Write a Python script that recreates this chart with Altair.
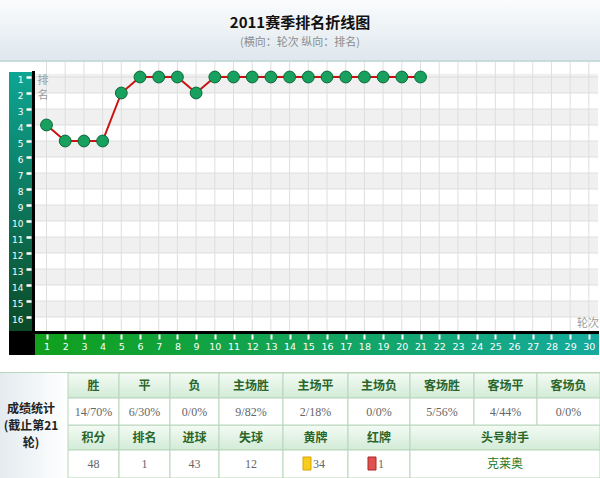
import altair as alt
import pandas as pd

# ---------------- data ----------------
rounds = list(range(1, 22))
ranks = [4, 5, 5, 5, 2, 1, 1, 1, 2, 1, 1, 1, 1, 1, 1, 1, 1, 1, 1, 1, 1]
round_ticks = list(range(1, 31))
rank_ticks = list(range(1, 17))

chart_title = "2011赛季排名折线图"
chart_subtitle = "(横向：轮次 纵向：排名)"
y_name = ["排", "名"]
x_name = "轮次"

head_row1 = ["胜", "平", "负", "主场胜", "主场平", "主场负", "客场胜", "客场平", "客场负"]
vals_row1 = ["14/70%", "6/30%", "0/0%", "9/82%", "2/18%", "0/0%", "5/56%", "4/44%", "0/0%"]
head_row2 = ["积分", "排名", "进球", "失球", "黄牌", "红牌", "头号射手"]
vals_row2 = ["48", "1", "43", "12", "34", "1", "克莱奥"]
side_lines = ["成绩统计", "(截止第21", "轮)"]

# ---------------- layout ----------------
W, H = 600, 478
PLOT_X = [35, 598]
PLOT_Y = [72, 331]
X_DOMAIN = [0.385, 30.49]
Y_DOMAIN = [0.6875, 16.875]
COL_EDGES = [68, 119, 170, 219, 283, 348, 410, 474, 537, 600]
ROW_EDGES = [373, 398, 425, 450, 478]
ROW2_SPANS = [(0, 1), (1, 2), (2, 3), (3, 4), (4, 5), (5, 6), (6, 9)]
CARD_COLORS = {"黄牌": ("#f7cc1c", "#d9a400"), "红牌": ("#e05050", "#a82828")}

CJK = "Noto Sans CJK SC"
GRID = "#dedede"
BAND = "#f0f0f0"
BORDER = "#b8d6bb"

XS = alt.Scale(domain=X_DOMAIN, range=PLOT_X, nice=False, zero=False)
YS = alt.Scale(domain=Y_DOMAIN, range=PLOT_Y, nice=False, zero=False)
PX = alt.Scale(domain=[0, W], range=[0, W], nice=False, zero=False)
PY = alt.Scale(domain=[0, H], range=[0, H], nice=False, zero=False)

one = pd.DataFrame({"k": [0]})


def vgrad(c0, c1):
    return alt.LinearGradient(gradient="linear",
                              stops=[alt.GradientStop(color=c0, offset=0),
                                     alt.GradientStop(color=c1, offset=1)],
                              x1=0, x2=0, y1=0, y2=1)


def hgrad(c0, c1):
    return alt.LinearGradient(gradient="linear",
                              stops=[alt.GradientStop(color=c0, offset=0),
                                     alt.GradientStop(color=c1, offset=1)],
                              x1=0, x2=1, y1=0, y2=0)


def box(x0, x1, y0, y1, **mark):
    return alt.Chart(one).mark_rect(**mark).encode(
        x=alt.value(x0), x2=alt.value(x1), y=alt.value(y0), y2=alt.value(y1))


def label(txt, x, y, **mark):
    return alt.Chart(one).mark_text(text=txt, **mark).encode(
        x=alt.value(x), y=alt.value(y))


layers = []

# header
layers.append(box(0, W, 0, 61, fill=vgrad("#fbfcfd", "#dde7ed")))
layers.append(box(0, W, 60, 62, fill="#c9dada"))
layers.append(label(chart_title, 300, 23, font=CJK, fontSize=15, fontWeight="bold", color="#111111"))
layers.append(label(chart_subtitle, 300, 43, font=CJK, fontSize=11, color="#8c8c8c"))

# alternating bands
bands = pd.DataFrame({"k": [k for k in rank_ticks if k % 2 == 1]})
bands["y0"] = [k - (0.2 if k == 1 else 0) for k in bands["k"]]
bands["y1"] = bands["k"] + 1
layers.append(alt.Chart(bands).mark_rect(fill=BAND).encode(
    y=alt.Y("y0:Q", scale=YS, axis=None), y2="y1:Q",
    x=alt.value(PLOT_X[0]), x2=alt.value(PLOT_X[1])))

# horizontal grid + y axis
hg = pd.DataFrame({"r": rank_ticks})
layers.append(alt.Chart(hg).mark_rule(color=GRID, strokeWidth=1).encode(
    y=alt.Y("r:Q", scale=YS,
            axis=alt.Axis(values=rank_ticks, orient="left", offset=-31, domain=False, grid=False,
                          tickColor="white", tickSize=5, tickWidth=2.5, labelColor="white",
                          labelFontSize=9, labelFont="DejaVu Sans", labelPadding=3,
                          labelOffset=2, title=None, zindex=1, labelFlush=False,
                          labelOverlap=False, format="d")),
    x=alt.value(PLOT_X[0]), x2=alt.value(PLOT_X[1])))

# vertical grid + x axis
vg = pd.DataFrame({"t": round_ticks})
layers.append(alt.Chart(vg).mark_rule(color=GRID, strokeWidth=1).encode(
    x=alt.X("t:Q", scale=XS,
            axis=alt.Axis(values=round_ticks, orient="bottom", offset=-(H - 334), domain=False,
                          grid=False, tickColor="white", tickSize=5, tickWidth=2,
                          labelColor="white", labelFontSize=9.5, labelFont="DejaVu Sans",
                          labelPadding=2, title=None, zindex=1, labelFlush=False,
                          labelOverlap=False, format="d")),
    y=alt.value(62), y2=alt.value(PLOT_Y[1])))

# axis bands
layers.append(box(9, 32, 72, 331, fill=vgrad("#0ea593", "#0b4a27")))
layers.append(box(35, 599, 334, 355, fill=hgrad("#10a01c", "#15aa9e")))
layers.append(box(32, 35, 71, 334, fill="#000000"))
layers.append(box(9, 599, 331, 334, fill="#000000"))
layers.append(box(9, 35, 331, 355, fill="#000000"))

# axis names
layers.append(label(y_name[0], 43, 81, font=CJK, fontSize=11, color="#9a9a9a"))
layers.append(label(y_name[1], 43, 96, font=CJK, fontSize=11, color="#9a9a9a"))
layers.append(label(x_name, 588, 324, font=CJK, fontSize=11, color="#9a9a9a"))

# series
series = pd.DataFrame({"round": rounds, "rank": ranks})
layers.append(alt.Chart(series).mark_line(color="#cc1111", strokeWidth=2).encode(
    x=alt.X("round:Q", scale=XS, axis=None), y=alt.Y("rank:Q", scale=YS, axis=None)))
layers.append(alt.Chart(series).mark_circle(size=140, color="#18a05e", opacity=1,
                                            stroke="#0c6a3a", strokeWidth=1).encode(
    x=alt.X("round:Q", scale=XS, axis=None), y=alt.Y("rank:Q", scale=YS, axis=None)))

# ---------------- table ----------------
rows = []
for i, (h, v) in enumerate(zip(head_row1, vals_row1)):
    rows.append(dict(x0=COL_EDGES[i], x1=COL_EDGES[i + 1], y0=ROW_EDGES[0], y1=ROW_EDGES[1], kind="head", text=h))
    rows.append(dict(x0=COL_EDGES[i], x1=COL_EDGES[i + 1], y0=ROW_EDGES[1], y1=ROW_EDGES[2], kind="val", text=v))
for j, (h, v) in enumerate(zip(head_row2, vals_row2)):
    a, b = ROW2_SPANS[j]
    rows.append(dict(x0=COL_EDGES[a], x1=COL_EDGES[b], y0=ROW_EDGES[2], y1=ROW_EDGES[3], kind="head", text=h))
    kind = "card" if h in CARD_COLORS else ("name" if not v.isdigit() else "val")
    rows.append(dict(x0=COL_EDGES[a], x1=COL_EDGES[b], y0=ROW_EDGES[3], y1=ROW_EDGES[4], kind=kind, text=v, head=h))
cells = pd.DataFrame(rows)
cells["xc"] = (cells["x0"] + cells["x1"]) / 2
cells["yc"] = (cells["y0"] + cells["y1"]) / 2

heads = cells[cells.kind == "head"]
bodies = cells[cells.kind != "head"]

layers.append(box(0, 68, 373, 478, fill=hgrad("#e4ebef", "#ffffff")))
layers.append(box(0, W, 372, 373, fill=BORDER))


def cell_rects(df, fill):
    return alt.Chart(df).mark_rect(fill=fill, stroke=BORDER, strokeWidth=1).encode(
        x=alt.X("x0:Q", scale=PX, axis=None), x2="x1:Q",
        y=alt.Y("y0:Q", scale=PY, axis=None), y2="y1:Q")


layers.append(cell_rects(heads, vgrad("#f4fbf4", "#d2ebd7")))
layers.append(cell_rects(bodies, "#ffffff"))

layers.append(alt.Chart(heads).mark_text(font=CJK, fontSize=12, fontWeight="bold", color="#2a662a").encode(
    x=alt.X("xc:Q", scale=PX, axis=None), y=alt.Y("yc:Q", scale=PY, axis=None), text="text:N"))
layers.append(alt.Chart(cells[cells.kind == "val"]).mark_text(font="Liberation Serif", fontSize=12, color="#666666").encode(
    x=alt.X("xc:Q", scale=PX, axis=None), y=alt.Y("yc:Q", scale=PY, axis=None), text="text:N"))
layers.append(alt.Chart(cells[cells.kind == "name"]).mark_text(font=CJK, fontSize=12, color="#1f7a1f").encode(
    x=alt.X("xc:Q", scale=PX, axis=None), y=alt.Y("yc:Q", scale=PY, axis=None), text="text:N"))

cards = cells[cells.kind == "card"].copy()
cards["ix0"] = cards["x0"] + 20
cards["ix1"] = cards["x0"] + 28
cards["iy0"] = cards["yc"] - 7
cards["iy1"] = cards["yc"] + 6
cards["tx"] = cards["x0"] + 30
cards["fill"] = [CARD_COLORS[h][0] for h in cards["head"]]
cards["edge"] = [CARD_COLORS[h][1] for h in cards["head"]]
layers.append(alt.Chart(cards).mark_rect(strokeWidth=1).encode(
    x=alt.X("ix0:Q", scale=PX, axis=None), x2="ix1:Q",
    y=alt.Y("iy0:Q", scale=PY, axis=None), y2="iy1:Q",
    fill=alt.Fill("fill:N", scale=None), stroke=alt.Stroke("edge:N", scale=None)))
layers.append(alt.Chart(cards).mark_text(font="Liberation Serif", fontSize=12, color="#666666", align="left").encode(
    x=alt.X("tx:Q", scale=PX, axis=None), y=alt.Y("yc:Q", scale=PY, axis=None), text="text:N"))

side = pd.DataFrame({"text": side_lines, "y": [409, 426, 443]})
layers.append(alt.Chart(side).mark_text(font=CJK, fontSize=12, fontWeight="bold", color="#222222").encode(
    x=alt.value(31), y=alt.Y("y:Q", scale=PY, axis=None), text="text:N"))

chart = alt.layer(*layers).resolve_scale(x="independent", y="independent").properties(
    width=W, height=H, padding=0, autosize="none", background="white"
).configure_view(stroke=None)

chart.save("out.html", embed_options={"renderer": "svg", "actions": False})
